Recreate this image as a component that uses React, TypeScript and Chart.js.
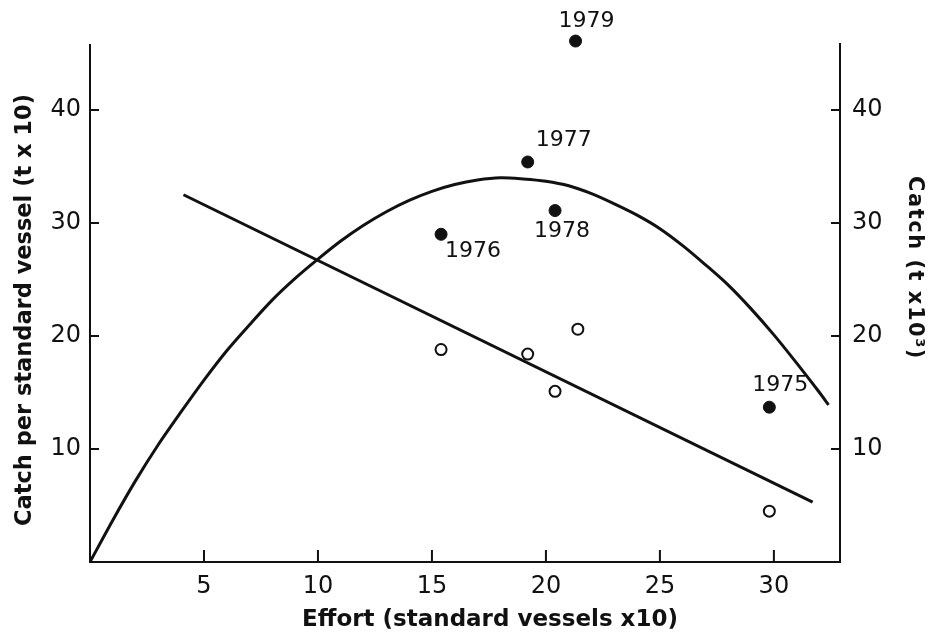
import React, { useEffect, useRef } from "react";
import { Chart, registerables } from "chart.js";

Chart.register(...registerables);

// Open circles: catch per standard vessel vs effort
const effortOpen = [15.4, 19.2, 20.4, 21.4, 29.8];
const cpueOpen = [18.8, 18.4, 15.1, 20.6, 4.5];

// Filled circles: catch vs effort, labelled by year
const yearLabels = ["1975", "1976", "1977", "1978", "1979"];
const effortYears = [29.8, 15.4, 19.2, 20.4, 21.3];
const catchYears = [13.7, 29.0, 35.4, 31.1, 46.1];

// Fitted straight line (CPUE)
const lineEffort = [4.1, 31.7];
const lineCpue = [32.5, 5.3];

// Fitted catch curve
const curveEffort = [0, 1, 2, 3, 4, 5, 6, 7, 8, 9, 10, 11, 12, 13, 14, 15, 16, 17, 18, 19, 20, 21, 22, 23, 24, 25, 26, 27, 28, 29, 30, 31, 32, 32.4];
const curveCatch = [0, 3.7, 7.2, 10.4, 13.3, 16.1, 18.7, 21.0, 23.2, 25.1, 26.8, 28.4, 29.8, 31.0, 32.0, 32.8, 33.4, 33.8, 34.0, 33.9, 33.7, 33.3, 32.6, 31.7, 30.7, 29.5, 28.0, 26.3, 24.5, 22.4, 20.1, 17.6, 15.0, 13.9];

// Axis ticks
const xTicks = [5, 10, 15, 20, 25, 30];
const yTicks = [10, 20, 30, 40];

const X_MAX = 32.9;
const Y_MAX = 45.84;

// label offsets (style): dx, dy of text centre relative to point
const labelOffsets = [
  [11, -22],
  [32, 17],
  [36, -22],
  [7, 21],
  [11, -20],
];

const FONT = "'DejaVu Sans', sans-serif";

const framePlugin = {
  id: "frame",
  afterDraw(chart: any) {
    const { ctx, chartArea, scales } = chart;
    const { left, right, top, bottom } = chartArea;
    const x = scales.x;
    const y = scales.y;
    const y2 = scales.y2;
    ctx.save();
    ctx.strokeStyle = "#111";
    ctx.lineWidth = 2;
    ctx.beginPath();
    ctx.moveTo(left, top);
    ctx.lineTo(left, bottom);
    ctx.lineTo(right, bottom);
    ctx.lineTo(right, top - 1);
    ctx.stroke();
    ctx.beginPath();
    yTicks.forEach((v) => {
      const py = y.getPixelForValue(v);
      ctx.moveTo(left, py);
      ctx.lineTo(left + 9, py);
      const py2 = y2.getPixelForValue(v);
      ctx.moveTo(right, py2);
      ctx.lineTo(right - 9, py2);
    });
    xTicks.forEach((v) => {
      const px = x.getPixelForValue(v);
      ctx.moveTo(px, bottom);
      ctx.lineTo(px, bottom - 12);
    });
    ctx.stroke();

    // year labels
    ctx.fillStyle = "#111";
    ctx.font = `22px ${FONT}`;
    ctx.textAlign = "center";
    ctx.textBaseline = "middle";
    yearLabels.forEach((lab, i) => {
      const px = x.getPixelForValue(effortYears[i]);
      const py = y2.getPixelForValue(catchYears[i]);
      ctx.fillText(lab, px + labelOffsets[i][0], py + labelOffsets[i][1]);
    });

    // axis titles
    ctx.font = `bold 23px ${FONT}`;
    ctx.fillText("Effort (standard vessels x10)", 490, 620);

    ctx.save();
    ctx.translate(25, 310);
    ctx.rotate(-Math.PI / 2);
    ctx.font = `bold 22.5px ${FONT}`;
    ctx.fillText("Catch per standard vessel (t x 10)", 0, 0);
    ctx.restore();

    ctx.save();
    ctx.translate(914, 268);
    ctx.rotate(Math.PI / 2);
    ctx.font = `bold 21px ${FONT}`;
    (ctx as any).letterSpacing = "1.5px";
    ctx.fillText("Catch (t x10³)", 0, 0);
    ctx.restore();
    ctx.restore();
  },
};

export default function App() {
  const ref = useRef<HTMLCanvasElement | null>(null);
  useEffect(() => {
    if (!ref.current) return;
    const tickFont = { family: FONT, size: 24 };
    const chart = new Chart(ref.current, {
      type: "scatter",
      data: {
        datasets: [
          {
            type: "line",
            data: curveEffort.map((e, i) => ({ x: e, y: curveCatch[i] })),
            yAxisID: "y2",
            borderColor: "#111",
            borderWidth: 3,
            pointRadius: 0,
            tension: 0.3,
            fill: false,
          } as any,
          {
            type: "line",
            data: lineEffort.map((e, i) => ({ x: e, y: lineCpue[i] })),
            yAxisID: "y",
            borderColor: "#111",
            borderWidth: 3,
            pointRadius: 0,
            fill: false,
          },
          {
            data: effortOpen.map((e, i) => ({ x: e, y: cpueOpen[i] })),
            yAxisID: "y",
            pointRadius: 5.5,
            pointBorderWidth: 2,
            pointBackgroundColor: "#fff",
            pointBorderColor: "#111",
          },
          {
            data: effortYears.map((e, i) => ({ x: e, y: catchYears[i] })),
            yAxisID: "y2",
            pointRadius: 6,
            pointBorderWidth: 1,
            pointBackgroundColor: "#111",
            pointBorderColor: "#111",
            clip: false,
          } as any,
        ],
      },
      options: {
        animation: false,
        responsive: false,
        devicePixelRatio: 1,
        layout: { padding: { top: 44, left: 0, right: 0, bottom: 0 } },
        plugins: { legend: { display: false }, tooltip: { enabled: false } },
        scales: {
          x: {
            type: "linear",
            min: 0,
            max: X_MAX,
            grid: { display: false, drawTicks: false },
            border: { display: false },
            ticks: {
              stepSize: 5,
              autoSkip: false,
              includeBounds: false,
              padding: 10,
              color: "#111",
              font: tickFont,
              maxRotation: 0,
              callback: (v: any) => (xTicks.includes(v) ? String(v) : ""),
            },
            afterFit: (s: any) => {
              s.height = 74;
            },
          },
          y: {
            type: "linear",
            position: "left",
            min: 0,
            max: Y_MAX,
            grid: { display: false, drawTicks: false },
            border: { display: false },
            ticks: {
              stepSize: 10,
              autoSkip: false,
              includeBounds: false,
              padding: 9,
              color: "#111",
              font: tickFont,
              callback: (v: any) => (yTicks.includes(v) ? String(v) : ""),
            },
            afterFit: (s: any) => {
              s.width = 90;
            },
          },
          y2: {
            type: "linear",
            position: "right",
            min: 0,
            max: Y_MAX,
            grid: { display: false, drawTicks: false },
            border: { display: false },
            ticks: {
              stepSize: 10,
              autoSkip: false,
              includeBounds: false,
              padding: 12,
              color: "#111",
              font: tickFont,
              callback: (v: any) => (yTicks.includes(v) ? String(v) : ""),
            },
            afterFit: (s: any) => {
              s.width = 91;
            },
          },
        },
      },
      plugins: [framePlugin],
    });
    return () => chart.destroy();
  }, []);
  return (
    <div style={{ position: "fixed", left: 0, top: 0, width: 931, height: 636, background: "#fff" }}>
      <canvas ref={ref} width={931} height={636} style={{ width: 931, height: 636 }} />
    </div>
  );
}
